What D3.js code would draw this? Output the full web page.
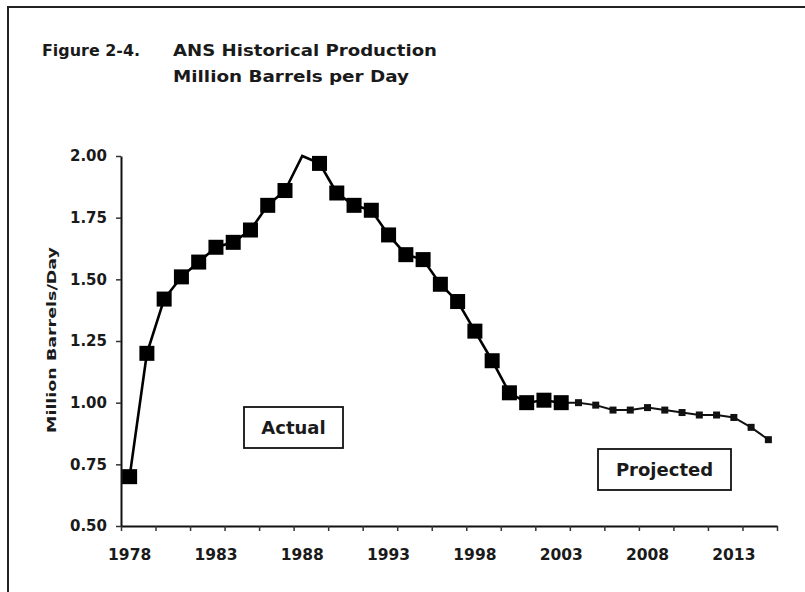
<!DOCTYPE html>
<html>
<head>
<meta charset="utf-8">
<script src="https://cdn.jsdelivr.net/npm/d3@7"></script>
<style>
  body { margin: 0; background: #fff; }
  text { font-family: "DejaVu Sans", sans-serif; font-weight: bold; fill: #1a1a1a; }
</style>
</head>
<body>
<svg id="chart" width="805" height="592"></svg>
<script>
var actualYears = [1978, 1979, 1980, 1981, 1982, 1983, 1984, 1985, 1986, 1987, 1988, 1989, 1990,
                   1991, 1992, 1993, 1994, 1995, 1996, 1997, 1998, 1999, 2000, 2001, 2002, 2003];
var actualValues = [0.70, 1.20, 1.42, 1.51, 1.57, 1.63, 1.65, 1.70, 1.80, 1.86, 2.00, 1.97, 1.85,
                    1.80, 1.78, 1.68, 1.60, 1.58, 1.48, 1.41, 1.29, 1.17, 1.04, 1.00, 1.01, 1.00];
var projYears = [2003, 2004, 2005, 2006, 2007, 2008, 2009, 2010, 2011, 2012, 2013, 2014, 2015];
var projValues = [1.00, 1.00, 0.99, 0.97, 0.97, 0.98, 0.97, 0.96, 0.95, 0.95, 0.94, 0.90, 0.85];
var yTicks = [0.50, 0.75, 1.00, 1.25, 1.50, 1.75, 2.00];
var xLabels = [1978, 1983, 1988, 1993, 1998, 2003, 2008, 2013];

var margins = { top: 156, right: 28, bottom: 66, left: 121 },
    W = 805, H = 592;

var svg = d3.select("#chart");

// frame (only top + left edges show in the scan)
svg.append("path")
    .attr("d", "M8,592 L8,7 L805,7")
    .attr("fill", "none")
    .attr("stroke", "#222")
    .attr("stroke-width", 2);

// title
svg.append("text").attr("x", 42).attr("y", 56).style("font-size", "15px")
    .attr("textLength", 98).attr("lengthAdjust", "spacingAndGlyphs")
    .text("Figure 2-4.");
svg.append("text").attr("x", 173).attr("y", 56).style("font-size", "15px")
    .attr("textLength", 264).attr("lengthAdjust", "spacingAndGlyphs")
    .text("ANS Historical Production");
svg.append("text").attr("x", 173).attr("y", 82).style("font-size", "15px")
    .attr("textLength", 236).attr("lengthAdjust", "spacingAndGlyphs")
    .text("Million Barrels per Day");

var allYears = d3.range(1978, 2016);
var x = d3.scaleBand()
    .domain(allYears)
    .range([margins.left, W - margins.right]);
var xEdge = d3.scaleLinear()
    .domain([1978, 2016])
    .range([margins.left, W - margins.right]);
var y = d3.scaleLinear()
    .domain([0.5, 2.0])
    .range([H - margins.bottom, margins.top]);

function cx(yr) { return x(yr) + x.bandwidth() / 2; }

// y axis
var yGuide = svg.append("g")
    .attr("transform", "translate(" + margins.left + ",0)")
    .call(d3.axisLeft(y).tickValues(yTicks).tickFormat(d3.format(".2f"))
        .tickSize(5).tickSizeOuter(0).tickPadding(9));
yGuide.select(".domain").attr("stroke", "#111").attr("stroke-width", 2);
yGuide.selectAll(".tick line").attr("stroke", "#333").attr("stroke-width", 1.5);
yGuide.selectAll("text").style("font-size", "15px").attr("fill", "#1a1a1a");

// x axis: ticks every 2 years at category edges
var xGuide = svg.append("g")
    .attr("transform", "translate(0," + y(0.5) + ")")
    .call(d3.axisBottom(xEdge).tickValues(d3.range(1978, 2017, 2)).tickFormat("")
        .tickSize(5).tickSizeOuter(0));
xGuide.select(".domain").attr("stroke", "#111").attr("stroke-width", 2);
xGuide.selectAll(".tick line").attr("stroke", "#333").attr("stroke-width", 1.5);

// x labels centred in their category
var xLab = svg.append("g")
    .attr("transform", "translate(0," + y(0.5) + ")")
    .call(d3.axisBottom(x).tickValues(xLabels).tickSize(0).tickPadding(23));
xLab.select(".domain").remove();
xLab.selectAll("text").style("font-size", "15.5px").attr("fill", "#1a1a1a");

// y axis title
svg.append("text")
    .attr("transform", "translate(56,340) rotate(-90)")
    .attr("text-anchor", "middle")
    .style("font-size", "13px")
    .attr("textLength", 186).attr("lengthAdjust", "spacingAndGlyphs")
    .text("Million Barrels/Day");

var line = d3.line()
    .x(function (d) { return cx(d[0]); })
    .y(function (d) { return y(d[1]); });

var actual = d3.zip(actualYears, actualValues);
var proj = d3.zip(projYears, projValues);

svg.append("path")
    .datum(proj)
    .attr("d", line)
    .attr("fill", "none")
    .attr("stroke", "#111")
    .attr("stroke-width", 2);

svg.append("path")
    .datum(actual)
    .attr("d", line)
    .attr("fill", "none")
    .attr("stroke", "#000")
    .attr("stroke-width", 2.6);

// big markers; the 1988 peak sits on the frame top and shows no marker
var big = 15;
svg.append("g").selectAll("rect")
    .data(actual.filter(function (d) { return d[1] < 2.0; }))
    .enter().append("rect")
    .attr("x", function (d) { return cx(d[0]) - big / 2; })
    .attr("y", function (d) { return y(d[1]) - big / 2; })
    .attr("width", big).attr("height", big)
    .attr("fill", "#000");

var small = 7;
svg.append("g").selectAll("rect")
    .data(proj.slice(1))
    .enter().append("rect")
    .attr("x", function (d) { return cx(d[0]) - small / 2; })
    .attr("y", function (d) { return y(d[1]) - small / 2; })
    .attr("width", small).attr("height", small)
    .attr("fill", "#111");

// annotation boxes
function labelBox(x0, y0, w, h, txt, fs) {
    svg.append("rect")
        .attr("x", x0).attr("y", y0).attr("width", w).attr("height", h)
        .attr("fill", "#fff").attr("stroke", "#111").attr("stroke-width", 1.8);
    svg.append("text")
        .attr("x", x0 + w / 2).attr("y", y0 + h / 2)
        .attr("dy", "0.36em")
        .attr("text-anchor", "middle")
        .style("font-size", fs + "px")
        .text(txt);
}
labelBox(244, 407, 99, 41, "Actual", 18);
labelBox(598, 449, 133, 41, "Projected", 18);
</script>
</body>
</html>
